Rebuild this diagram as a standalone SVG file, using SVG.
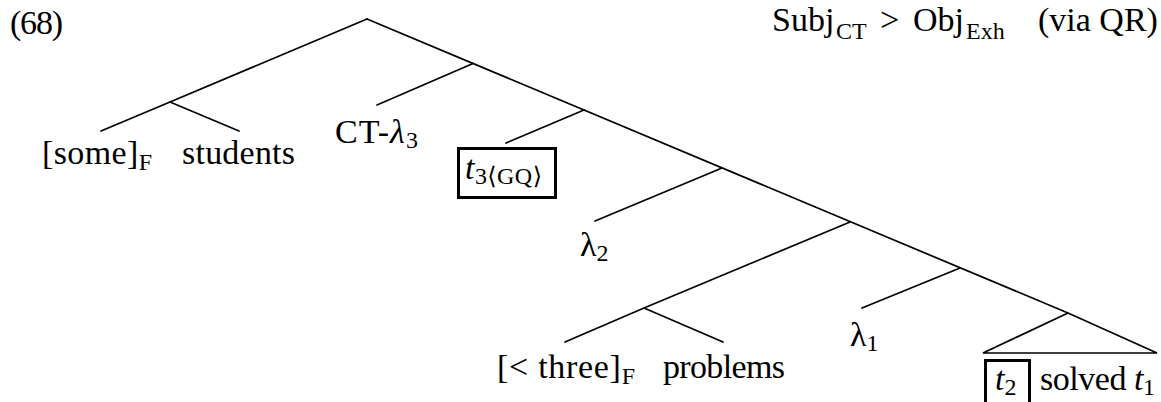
<svg xmlns="http://www.w3.org/2000/svg" width="1161" height="402" viewBox="0 0 1161 402">
<style>
  .t { font-family: "Liberation Serif", "DejaVu Serif", serif; font-size: 34px; fill: #000; }
  .s { font-size: 24px; }
  .i { font-style: italic; }
  .e { stroke: #000; stroke-width: 1.7; fill: none; stroke-linecap: round; }
  .box { stroke: #000; stroke-width: 3; fill: none; }
</style>
<rect width="1161" height="402" fill="#fff"/>
<text id="label" class="t" x="10" y="34" textLength="53">(68)</text>
<text id="title" class="t"><tspan x="772" y="31">Subj</tspan><tspan class="s" x="836" y="39">CT</tspan><tspan x="880" y="31">&gt;</tspan><tspan x="913" y="31">Obj</tspan><tspan class="s" x="966" y="39">Exh</tspan><tspan x="1038" y="31">(via QR)</tspan></text>
<g id="connectors">
  <path class="e" d="M367,19 L1068,313 L1157,353 L983,353 L1068,313"/>
  <path class="e" d="M367,19 L170,102 L101,131 M170,102 L239,131"/>
  <path class="e" d="M473,63.5 L377,105"/>
  <path class="e" d="M584,110 L506,143"/>
  <path class="e" d="M722,168 L595,221"/>
  <path class="e" d="M850,222 L644,308 L565,342 M644,308 L723,342"/>
  <path class="e" d="M960,268 L862,308"/>
</g>
<g id="n-some"><text class="t" x="42" y="164" textLength="110">[some]<tspan class="s" dy="6">F</tspan></text></g>
<g id="n-students"><text class="t" x="182" y="164" textLength="113">students</text></g>
<g id="n-ct"><text class="t" x="335" y="143" textLength="83">CT-<tspan class="i">λ</tspan><tspan class="s" dy="5">3</tspan></text></g>
<g id="n-t3"><rect class="box" x="458.5" y="148.5" width="97" height="49"/><text class="t" x="465" y="179" textLength="77"><tspan class="i">t</tspan><tspan class="s" dy="5">3⟨GQ⟩</tspan></text></g>
<g id="n-l2"><text class="t" x="580" y="256">λ<tspan class="s" dy="5">2</tspan></text></g>
<g id="n-three"><text class="t" x="497" y="378" textLength="138">[&lt; three]<tspan class="s" dy="6">F</tspan></text></g>
<g id="n-problems"><text class="t" x="663" y="378" textLength="122">problems</text></g>
<g id="n-l1"><text class="t" x="850" y="346">λ<tspan class="s" dy="5">1</tspan></text></g>
<g id="n-vp"><rect class="box" x="985.5" y="360.5" width="44" height="50"/><text class="t" x="995" y="390"><tspan class="i">t</tspan><tspan class="s" dy="5">2</tspan></text><text class="t" x="1040" y="390" textLength="115">solved <tspan class="i">t</tspan><tspan class="s" dy="5">1</tspan></text></g>
</svg>
